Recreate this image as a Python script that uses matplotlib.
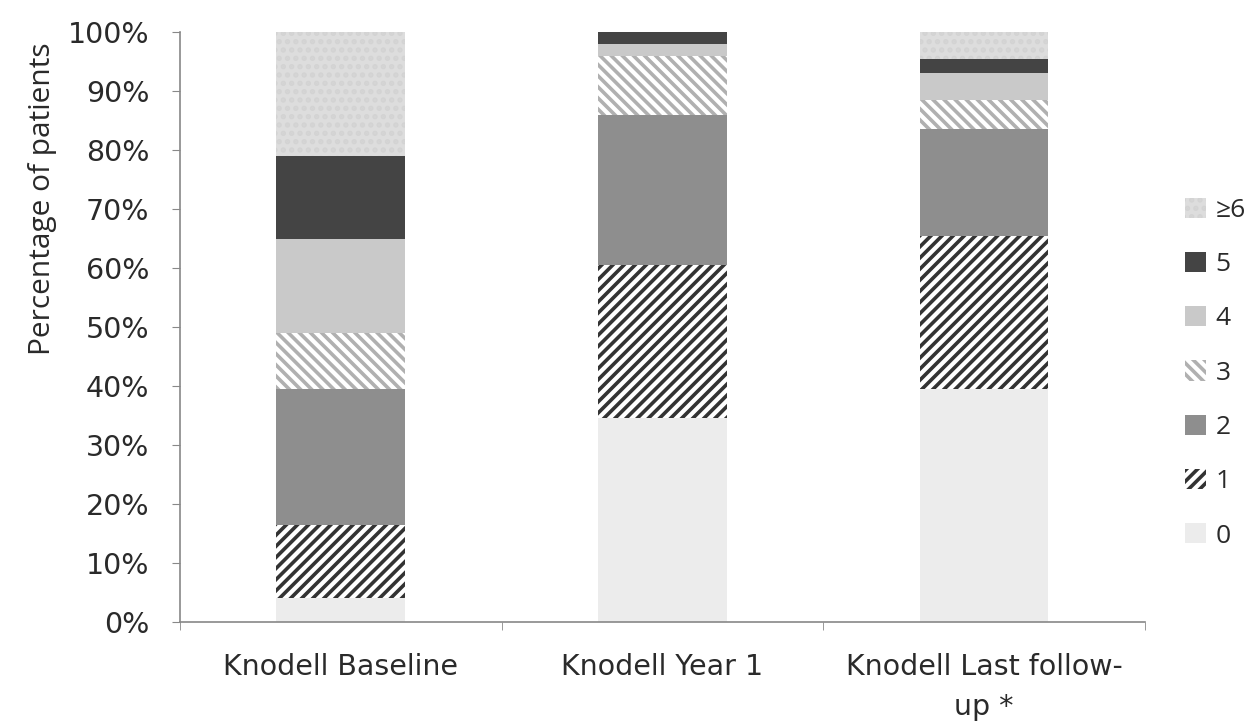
import matplotlib.pyplot as plt
import numpy as np

plt.rcParams['font.family'] = ['DejaVu Sans']
plt.rcParams['hatch.linewidth'] = 2.6

categories = ['Knodell Baseline', 'Knodell Year 1', 'Knodell Last follow-\nup *']
levels = ['0', '1', '2', '3', '4', '5', '≥6']

# percentage of patients per Knodell score, per time point
score_0 = [4.0, 34.5, 39.5]
score_1 = [12.5, 26.0, 26.0]
score_2 = [23.0, 25.5, 18.0]
score_3 = [9.5, 10.0, 5.0]
score_4 = [16.0, 2.0, 4.5]
score_5 = [14.0, 2.0, 2.5]
score_6 = [21.0, 0.0, 4.5]
series = [score_0, score_1, score_2, score_3, score_4, score_5, score_6]

# (facecolor, hatch, hatch colour)
styles = [
    ('#ececec', None, '#ececec'),
    ('white', '///', '#333333'),
    ('#8e8e8e', None, '#8e8e8e'),
    ('white', '\\\\\\', '#b0b0b0'),
    ('#c9c9c9', None, '#c9c9c9'),
    ('#444444', None, '#444444'),
    ('#dddddd', '..', '#d3d3d3'),
]

fig = plt.figure(figsize=(12.53, 7.27), dpi=100)
ax = fig.add_axes([180 / 1253, 1 - 622 / 727, 965 / 1253, 590 / 727])

x = np.arange(len(categories))
bottom = np.zeros(len(categories))
handles = []
for vals, lab, (fc, h, hc) in zip(series, levels, styles):
    b = ax.bar(x, vals, 0.4, bottom=bottom, color=fc, edgecolor=hc,
               hatch=h, linewidth=0, label=lab, zorder=2)
    handles.append(b)
    bottom += np.array(vals)

ax.set_xlim(-0.5, 2.5)
ax.set_ylim(0, 100)
ax.set_yticks(range(0, 101, 10))
ax.set_yticklabels([f'{v}%' for v in range(0, 101, 10)], fontsize=20.5, color='#2a2a2a')
ax.set_xticks(x)
ax.set_xticklabels(categories, fontsize=20.5, color='#2a2a2a', linespacing=1.55)
ax.tick_params(axis='x', length=0, pad=22)
ax.set_xticks([-0.5, 0.5, 1.5, 2.5], minor=True)
ax.tick_params(axis='x', which='minor', length=6, color='#888888', direction='out')
ax.tick_params(axis='y', length=6, color='#888888', direction='out', pad=16)

for s in ['top', 'right']:
    ax.spines[s].set_visible(False)
for s in ['left', 'bottom']:
    ax.spines[s].set_color('#888888')
    ax.spines[s].set_linewidth(1.2)

ax.set_ylabel('Percentage of patients', fontsize=21.5, color='#2a2a2a',
              family='Open Sans')
ax.yaxis.set_label_coords(-0.127, 0.717)

leg = ax.legend(handles[::-1], levels[::-1], loc='center left',
                bbox_to_anchor=(1.017, 0.422), frameon=False,
                prop={'family': 'Open Sans', 'size': 19},
                handlelength=0.8, handleheight=0.8, handletextpad=0.35,
                labelspacing=1.1)
for t in leg.get_texts():
    t.set_color('#2a2a2a')

fig.savefig('out.png', dpi=100)
